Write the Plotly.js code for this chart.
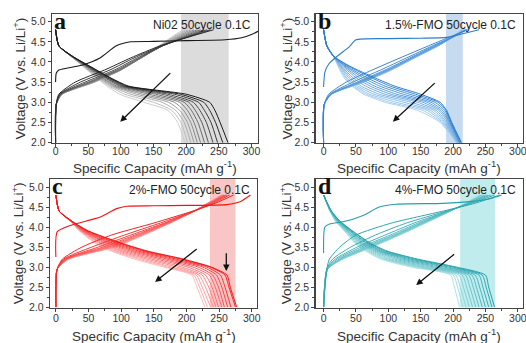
<!DOCTYPE html>
<html><head><meta charset="utf-8">
<script src="https://cdn.plot.ly/plotly-3.0.1.min.js"></script>
<style>html,body{margin:0;padding:0;background:#fff}</style>
</head><body><div id="chart" style="width:526px;height:343px"></div>
<script>
// Shared voltage levels (V) at which each curve's capacity was read
const dischargeVoltages = [4.8, 4.4, 4.15, 3.9, 3.6, 3.4, 3.2, 3.0, 2.8, 2.5, 2.0];
const chargeVoltages = [2.0, 2.95, 3.2, 3.5, 3.8, 4.1, 4.4, 4.6, 4.8];
const xTicks = [0, 50, 100, 150, 200, 250, 300];
const yTicks = [2.0, 2.5, 3.0, 3.5, 4.0, 4.5, 5.0];
const panelLetters = ['a', 'b', 'c', 'd'];
const panelTitles = ['Ni02 50cycle 0.1C', '1.5%-FMO 50cycle 0.1C', '2%-FMO 50cycle 0.1C', '4%-FMO 50cycle 0.1C'];
const xTitle = 'Specific Capacity (mAh g<sup>-1</sup>)';
const yTitle = 'Voltage (V vs. Li/Li<sup>+</sup>)';

// ---- Panel a: Ni02 (capacity in mAh/g at each discharge / charge voltage level)
const ni02Discharge = [
  [0, 5, 25, 52, 85, 112, 200, 236, 244, 252, 264],
  [0, 5, 25, 51, 84, 110, 191, 227, 236, 245, 256],
  [0, 5, 25, 50, 82, 107, 182, 219, 228, 238, 248],
  [0, 5, 24, 49, 80, 104, 172, 211, 221, 231, 241],
  [0, 5, 24, 48, 78, 101, 163, 204, 214, 224, 234],
  [0, 5, 24, 47, 76, 98, 153, 197, 208, 218, 228],
  [0, 5, 24, 46, 73, 94, 143, 190, 202, 212, 222],
  [0, 5, 23, 45, 71, 91, 133, 182, 196, 207, 217],
  [0, 5, 23, 44, 69, 88, 124, 173, 190, 202, 212],
  [0, 5, 23, 43, 67, 85, 115, 163, 184, 197, 207],
  [0, 5, 23, 42, 65, 82, 106, 150, 178, 192, 202],
  [0, 5, 23, 41, 63, 79, 98, 135, 172, 187, 198]
];
const ni02Charge = [
  [0, 1, 5, 30, 75, 115, 160, 200, 242],
  [0, 1, 6, 38, 83, 120, 163, 199, 237],
  [0, 1, 7, 45, 90, 125, 164, 197, 232],
  [0, 1, 8, 50, 94, 128, 164, 195, 227],
  [0, 1, 8, 53, 97, 130, 164, 192, 222],
  [0, 1, 9, 55, 98, 131, 163, 189, 217],
  [0, 1, 9, 57, 99, 131, 162, 186, 212],
  [0, 1, 10, 58, 100, 131, 161, 183, 207],
  [0, 1, 10, 59, 100, 130, 160, 180, 203],
  [0, 1, 10, 60, 100, 130, 159, 178, 199],
  [0, 1, 10, 60, 100, 129, 158, 176, 195]
];
const ni02FirstCap = [0, 1, 5, 40, 68, 93, 115, 150, 200, 260, 285, 300, 310];
const ni02FirstV = [3.5, 3.72, 3.8, 3.92, 4.1, 4.4, 4.5, 4.51, 4.53, 4.55, 4.6, 4.68, 4.76];

// ---- Panel b: 1.5%-FMO
const fmo15Discharge = [
  [0, 5, 15, 40, 80, 110, 150, 180, 190, 198, 213],
  [0, 5, 15, 38, 75, 103, 142, 177, 189, 197, 212],
  [0, 5, 15, 35, 68, 95, 133, 172, 187, 196, 211],
  [0, 5, 15, 33, 62, 87, 123, 166, 184, 195, 210],
  [0, 5, 15, 31, 56, 79, 113, 160, 181, 194, 210],
  [0, 5, 15, 29, 51, 72, 104, 153, 178, 192, 209],
  [0, 5, 15, 27, 46, 65, 95, 145, 174, 190, 208],
  [0, 5, 15, 26, 42, 58, 86, 135, 170, 188, 207],
  [0, 5, 15, 25, 39, 53, 78, 124, 165, 186, 206],
  [0, 5, 15, 24, 36, 49, 71, 112, 160, 184, 206],
  [0, 5, 15, 23, 34, 46, 66, 102, 153, 182, 205],
  [0, 5, 15, 22, 32, 44, 62, 95, 145, 180, 205]
];
const fmo15Charge = [
  [0, 1, 8, 35, 75, 118, 162, 192, 222],
  [0, 1, 10, 45, 88, 128, 168, 196, 222],
  [0, 1, 11, 52, 95, 133, 171, 197, 221],
  [0, 1, 11, 55, 98, 136, 173, 198, 220],
  [0, 1, 12, 57, 100, 137, 174, 198, 219],
  [0, 1, 12, 58, 101, 138, 175, 198, 218],
  [0, 1, 12, 59, 102, 139, 176, 198, 217],
  [0, 1, 12, 60, 103, 139, 176, 198, 216],
  [0, 1, 12, 61, 104, 140, 177, 198, 215],
  [0, 1, 12, 62, 104, 140, 177, 197, 213],
  [0, 1, 12, 62, 105, 140, 177, 197, 212]
];
const fmo15FirstCap = [0, 2, 8, 20, 40, 50, 100, 150, 190, 215, 240];
const fmo15FirstV = [3.38, 3.75, 3.95, 4.13, 4.38, 4.55, 4.58, 4.59, 4.61, 4.7, 4.8];

// ---- Panel c: 2%-FMO
const fmo2Discharge = [
  [0, 5, 24, 50, 100, 140, 195, 238, 262, 267, 277],
  [0, 5, 24, 49, 97, 137, 191, 236, 259, 265, 275],
  [0, 5, 24, 47, 92, 132, 184, 231, 252, 259, 268],
  [0, 5, 24, 45, 87, 126, 177, 225, 246, 254, 263],
  [0, 5, 23, 43, 83, 120, 170, 218, 240, 249, 258],
  [0, 5, 23, 42, 79, 114, 162, 210, 235, 244, 254],
  [0, 5, 23, 41, 75, 108, 154, 202, 229, 239, 249],
  [0, 5, 23, 40, 71, 102, 146, 193, 224, 234, 245],
  [0, 5, 22, 39, 68, 97, 139, 185, 219, 229, 241],
  [0, 5, 22, 38, 65, 92, 132, 177, 215, 224, 237],
  [0, 5, 22, 37, 62, 88, 126, 171, 211, 220, 232],
  [0, 5, 22, 36, 60, 85, 120, 165, 208, 216, 228]
];
const fmo2Charge = [
  [0, 2, 10, 40, 85, 150, 210, 245, 272],
  [0, 2, 12, 55, 105, 160, 212, 242, 266],
  [0, 2, 14, 65, 115, 166, 212, 239, 262],
  [0, 2, 15, 72, 121, 169, 212, 237, 260],
  [0, 2, 16, 77, 125, 171, 212, 236, 258],
  [0, 2, 17, 81, 128, 172, 212, 235, 257],
  [0, 2, 18, 84, 130, 173, 212, 234, 256],
  [0, 2, 19, 86, 132, 174, 212, 234, 255],
  [0, 2, 19, 88, 133, 174, 212, 233, 254],
  [0, 2, 20, 89, 134, 175, 212, 233, 253],
  [0, 2, 20, 90, 135, 175, 212, 233, 252]
];
const fmo2FirstCap = [0, 2, 22, 68, 93, 109, 150, 200, 262, 282, 298];
const fmo2FirstV = [3.25, 3.88, 4.04, 4.25, 4.46, 4.52, 4.53, 4.54, 4.56, 4.63, 4.8];

// ---- Panel d: 4%-FMO
const fmo4Discharge = [
  [0, 12, 25, 45, 72, 98, 145, 205, 250, 255, 264],
  [0, 12, 25, 44, 70, 95, 140, 200, 245, 251, 260],
  [0, 11, 24, 42, 67, 91, 134, 193, 240, 246, 255],
  [0, 11, 23, 41, 65, 88, 128, 186, 234, 241, 250],
  [0, 11, 22, 40, 62, 85, 122, 178, 229, 236, 245],
  [0, 11, 22, 38, 60, 82, 116, 171, 224, 231, 240],
  [0, 11, 21, 37, 58, 79, 110, 164, 219, 226, 235],
  [0, 10, 20, 36, 56, 76, 104, 157, 214, 221, 230],
  [0, 10, 20, 35, 54, 73, 99, 151, 209, 216, 225],
  [0, 10, 19, 34, 52, 70, 95, 146, 204, 211, 220],
  [0, 10, 19, 33, 50, 67, 92, 141, 200, 207, 215],
  [0, 10, 18, 32, 48, 65, 88, 135, 196, 202, 210]
];
const fmo4Charge = [
  [0, 5, 9, 25, 50, 105, 185, 235, 272],
  [0, 5, 14, 42, 80, 128, 190, 230, 264],
  [0, 5, 18, 52, 95, 140, 192, 227, 258],
  [0, 5, 21, 58, 103, 146, 193, 225, 254],
  [0, 6, 24, 63, 108, 150, 194, 224, 251],
  [0, 6, 26, 67, 111, 152, 195, 223, 248],
  [0, 6, 27, 70, 113, 154, 195, 222, 246],
  [0, 6, 28, 72, 115, 155, 196, 221, 244],
  [0, 6, 29, 73, 116, 156, 196, 221, 243],
  [0, 6, 30, 74, 117, 157, 196, 220, 241],
  [0, 6, 30, 75, 118, 158, 196, 220, 240]
];
const fmo4FirstCap = [0, 2, 10, 30, 61, 86, 112, 184, 230, 260, 275];
const fmo4FirstV = [3.35, 4.0, 4.08, 4.13, 4.29, 4.5, 4.57, 4.59, 4.64, 4.72, 4.8];

// shaded capacity windows [start, end] (mAh/g)
const shadeWindows = [[192, 265], [189, 215], [236, 275], [211, 265]];

// ---------------- styling / layout ----------------
const panels = [
  {dis: ni02Discharge, chg: ni02Charge, fc: ni02FirstCap, fv: ni02FirstV,
   dark: [25, 25, 25], light: [205, 205, 205], shade: '#dcdcdc',
   dom: [[52, 258], [14, 143]], xr: [-5.5, 310], yr: [1.99, 5.19], ytx: 19, xty: 167, tls: -5},
  {dis: fmo15Discharge, chg: fmo15Charge, fc: fmo15FirstCap, fv: fmo15FirstV,
   dark: [45, 125, 205], light: [172, 212, 243], shade: '#c6dbf0',
   dom: [[315.5, 523], [14, 143]], xr: [-12.5, 308], yr: [1.99, 5.19], ytx: 286, xty: 167, tls: -5},
  {dis: fmo2Discharge, chg: fmo2Charge, fc: fmo2FirstCap, fv: fmo2FirstV,
   dark: [245, 20, 20], light: [255, 188, 188], shade: '#f9c6c6',
   dom: [[50, 257], [179, 307.5]], xr: [-9, 308], yr: [1.99, 5.2], ytx: 18, xty: 335, tls: -2},
  {dis: fmo4Discharge, chg: fmo4Charge, fc: fmo4FirstCap, fv: fmo4FirstV,
   dark: [35, 160, 170], light: [170, 226, 229], shade: '#c0ecee',
   dom: [[315.5, 523], [179, 307.5]], xr: [-12.5, 308], yr: [1.99, 5.2], ytx: 286, xty: 335, tls: -2}
];
const W = 526, H = 343;
function mix(a, b, t) { return 'rgb(' + a.map((v, i) => Math.round(v + (b[i] - v) * t)).join(',') + ')'; }

const traces = [];
const layout = {
  width: W, height: H, margin: {l: 0, r: 0, t: 0, b: 0},
  paper_bgcolor: '#fff', plot_bgcolor: 'rgba(0,0,0,0)', showlegend: false,
  font: {family: 'Liberation Sans, Arial, sans-serif', color: '#333'},
  shapes: [], annotations: []
};
const arrows = [
  [[178, 3.76], [99, 2.52]],
  [[174, 3.51], [107, 2.52]],
  [[218, 3.48], [152, 2.63]],
  [[204, 3.35], [143, 2.55]]
];

panels.forEach((p, k) => {
  const sx = k === 0 ? '' : String(k + 1);
  const xa = 'x' + sx, ya = 'y' + sx;
  const n = p.dis.length;
  for (let i = n - 1; i >= 0; i--) {
    const col = mix(p.dark, p.light, i / (n - 1));
    if (i >= 1) {
      traces.push({x: p.chg[i - 1], y: chargeVoltages, xaxis: xa, yaxis: ya, mode: 'lines',
        line: {color: col, width: 1, shape: 'spline', smoothing: 0.6}, hoverinfo: 'skip'});
    }
    traces.push({x: p.dis[i], y: dischargeVoltages, xaxis: xa, yaxis: ya, mode: 'lines',
      line: {color: col, width: 1, shape: 'spline', smoothing: 0.6}, hoverinfo: 'skip'});
  }
  traces.push({x: p.fc, y: p.fv, xaxis: xa, yaxis: ya, mode: 'lines',
    line: {color: mix(p.dark, p.light, 0), width: 1.1, shape: 'spline', smoothing: 0.6}, hoverinfo: 'skip'});

  const axCommon = {showline: true, mirror: true, linecolor: '#444', linewidth: 1.2,
    ticks: 'outside', ticklen: 3, tickwidth: 1, tickcolor: '#444', showgrid: false, zeroline: false,
    tickfont: {size: 10.5, color: '#333', family: 'Liberation Sans, Arial, sans-serif'}, automargin: false,
    ticklabeloverflow: 'allow', fixedrange: true};
  const xd = [p.dom[0][0] / W, p.dom[0][1] / W];
  const yd = [1 - p.dom[1][1] / H, 1 - p.dom[1][0] / H];
  layout['xaxis' + sx] = Object.assign({}, axCommon, {
    domain: xd, anchor: ya, range: p.xr, ticklabelstandoff: p.tls,
    tickvals: xTicks, minor: {tickvals: [25, 75, 125, 175, 225, 275], ticklen: 2, ticks: 'outside', tickcolor: '#444'}
  });
  layout['yaxis' + sx] = Object.assign({}, axCommon, {
    domain: yd, anchor: xa, range: p.yr,
    tickvals: yTicks, tickformat: '.1f',
    minor: {tickvals: [2.25, 2.75, 3.25, 3.75, 4.25, 4.75], ticklen: 2, ticks: 'outside', tickcolor: '#444'}
  });
  // axis titles
  layout.annotations.push({text: xTitle, xref: 'paper', yref: 'paper', x: (xd[0] + xd[1]) / 2, y: 1 - p.xty / H,
    xanchor: 'center', yanchor: 'middle', showarrow: false, font: {size: 13.5, color: '#333'}});
  layout.annotations.push({text: yTitle, xref: 'paper', yref: 'paper', x: p.ytx / W, y: (yd[0] + yd[1]) / 2,
    xanchor: 'center', yanchor: 'middle', textangle: -90, showarrow: false, font: {size: 13.5, color: '#333'}});
  layout.shapes.push({type: 'rect', xref: xa, yref: ya + ' domain', x0: shadeWindows[k][0], x1: shadeWindows[k][1],
    y0: 0, y1: 1, fillcolor: p.shade, line: {width: 0}, layer: 'below'});
  // panel letter
  layout.annotations.push({text: '<b>' + panelLetters[k] + '</b>', xref: xa + ' domain', yref: ya + ' domain',
    x: 0.0, y: 1.06, xanchor: 'left', yanchor: 'top', showarrow: false,
    font: {family: 'Liberation Serif, Times New Roman, serif', size: 24, color: '#111'}});
  // panel text
  layout.annotations.push({text: panelTitles[k], xref: xa + ' domain', yref: ya + ' domain',
    x: 0.975, y: 0.985, xanchor: 'right', yanchor: 'top', showarrow: false,
    font: {size: 12, color: '#222'}});
  // trend arrow
  const ar = arrows[k];
  layout.annotations.push({x: ar[1][0], y: ar[1][1], ax: ar[0][0], ay: ar[0][1], xref: xa, yref: ya,
    axref: xa, ayref: ya, showarrow: true, arrowhead: 2, arrowsize: 1, arrowwidth: 1.3, arrowcolor: '#111', text: ''});
});
// extra down arrow in panel c
layout.annotations.push({x: 261, y: 2.9, ax: 261, ay: 3.38, xref: 'x3', yref: 'y3', axref: 'x3', ayref: 'y3',
  showarrow: true, arrowhead: 2, arrowsize: 1, arrowwidth: 1.3, arrowcolor: '#111', text: ''});

Plotly.newPlot('chart', traces, layout, {displayModeBar: false, staticPlot: true});
</script></body></html>
